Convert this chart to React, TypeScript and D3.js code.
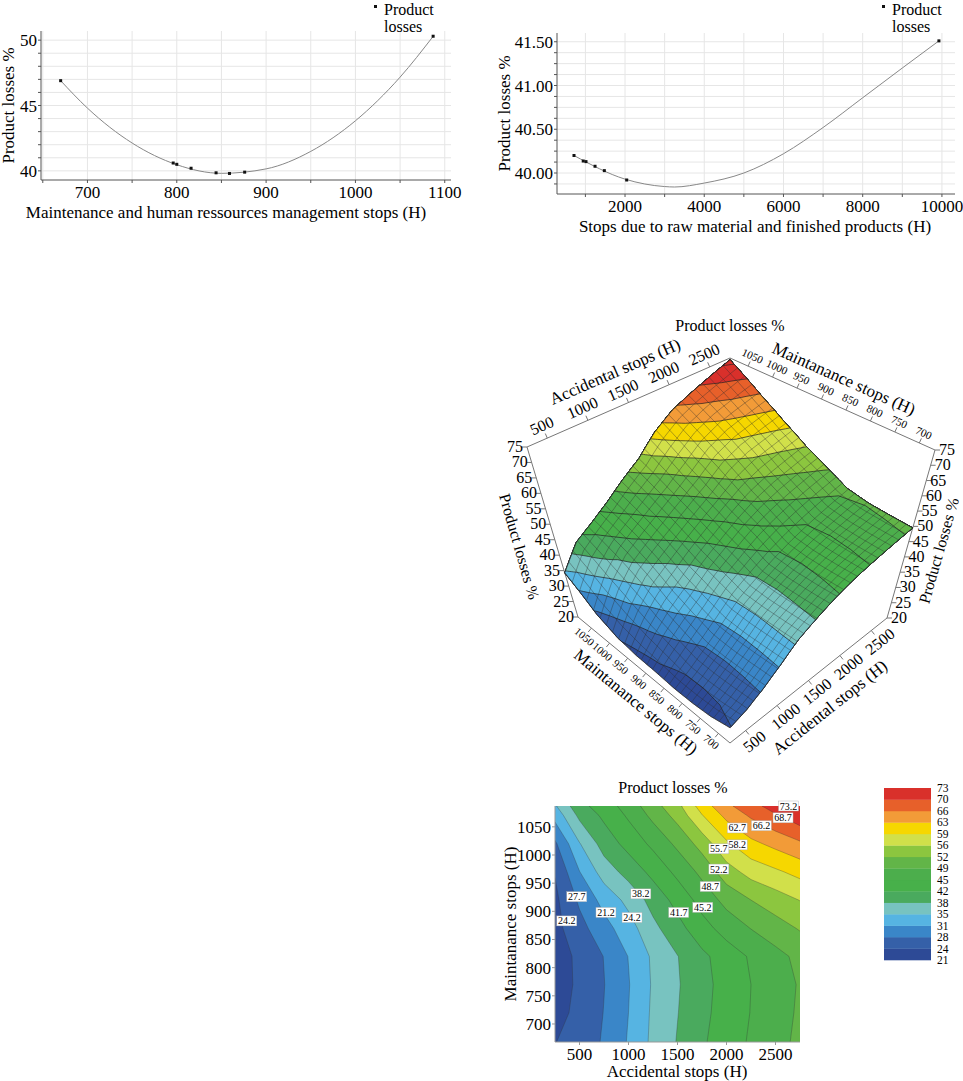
import * as d3 from 'd3';

// ---- top-left: maintenance & HR stops
const maintStops = [670, 796, 800, 816, 844, 859, 876, 1087];
const maintLoss = [46.9, 40.6, 40.5, 40.2, 39.85, 39.8, 39.9, 50.3];
const maintFitX = [670, 700, 750, 800, 850, 900, 950, 1000, 1050, 1087];
const maintFitY = [46.9, 44.8, 42.13, 40.47, 39.81, 40.15, 41.49, 43.83, 47.17, 50.29];

// ---- top-right: raw material stops
const rawStops = [712, 945, 1015, 1243, 1478, 2042, 9924];
const rawLoss = [40.2, 40.137, 40.13, 40.077, 40.027, 39.92, 41.51];
const rawFitX = [712, 2000, 3000, 3250, 4000, 5000, 6000, 7000, 8000, 9000, 9924];
const rawFitY = [40.2, 39.93, 39.845, 39.84, 39.885, 40.0, 40.22, 40.52, 40.86, 41.2, 41.51];

// ---- response surface grid (accidental stops x maintenance stops)
const accGrid = [250, 500, 750, 1000, 1250, 1500, 1750, 2000, 2250, 2500, 2750];
const maintGrid = [668, 720, 770, 820, 870, 920, 970, 1020, 1070, 1087];
const lossGrid = [
  [24.1, 25.6, 28.1, 31.5, 35.5, 38.4, 41.2, 43.6, 45.6, 47.5, 49.5],
  [23.0, 25.1, 27.8, 31.2, 35.3, 38.1, 40.8, 43.2, 45.3, 47.2, 49.2],
  [22.6, 24.8, 27.6, 31.0, 35.1, 37.9, 40.6, 43.0, 45.2, 47.1, 49.0],
  [22.6, 24.9, 27.8, 31.3, 35.3, 38.1, 40.9, 43.4, 45.6, 47.6, 49.6],
  [23.1, 26.5, 29.9, 33.2, 37.3, 40.5, 43.9, 46.6, 48.8, 50.7, 52.5],
  [23.4, 28.3, 32.4, 35.7, 39.5, 42.9, 46.5, 49.8, 52.2, 54.0, 55.8],
  [24.4, 31.1, 36.3, 39.5, 42.7, 46.1, 49.6, 54.1, 57.0, 58.6, 60.3],
  [27.1, 34.5, 39.7, 42.9, 46.0, 49.5, 53.6, 58.6, 61.8, 63.7, 65.6],
  [32.4, 39.0, 42.4, 45.7, 49.6, 53.4, 59.0, 63.6, 66.7, 69.3, 72.0],
  [34.3, 40.6, 43.4, 46.7, 50.8, 54.7, 60.8, 65.4, 68.4, 71.3, 74.3],
];
const levels = [20.7, 24.2, 27.7, 31.2, 34.7, 38.2, 41.7, 45.2, 48.7, 52.2, 55.7, 59.2, 62.7, 66.2, 69.7, 73.2];
const bandColors = ['#2d4a96', '#3560a8', '#3a86c8', '#56b4e2', '#78c3c0', '#4aaa5e', '#47b04a', '#4cae4c',
  '#62b548', '#8cc63f', '#d1e04a', '#f6d700', '#f29b38', '#e7602a', '#d9302b'];
const legendLabels = ['73', '70', '66', '63', '59', '56', '52', '49', '45', '42', '38', '35', '31', '28', '24', '21'];
const contourLabelText = ['73.2', '68.7', '66.2', '62.7', '58.2', '55.7', '52.2', '48.7', '45.2', '41.7', '38.2', '24.2', '21.2', '27.7', '24.2'];
const contourLabelAcc = [2633, 2577, 2356, 2110, 2110, 1922, 1922, 1833, 1758, 1512, 1126, 1036, 770, 472, 370];
const contourLabelMaint = [1087, 1066, 1052, 1048, 1018, 1011, 975, 944, 907, 898, 931, 889, 898, 926, 883];

const FONT = "'Liberation Serif', 'DejaVu Serif', serif";

function LineChart(props: {
  xs: number[]; ys: number[]; fx: number[]; fy: number[];
  xDom: number[]; xR: number[]; yDom: number[]; yR: number[];
  xTicks: number[]; xMinor: number[]; yTicks: number[]; yGrid: number[]; yFmt: (v: number) => string;
  xTitle: string; titleX: number; yTitleX: number; legX: number;
}) {
  const x = d3.scaleLinear().domain(props.xDom).range(props.xR);
  const y = d3.scaleLinear().domain(props.yDom).range(props.yR);
  const line = d3.line<number>().x((_, i) => x(props.fx[i])).y(d => y(d)).curve(d3.curveMonotoneX);
  const [x0, x1] = props.xR;
  const [y0, y1] = props.yR;
  return (
    <g>
      {props.xMinor.map(v => <line key={'gx' + v} x1={x(v)} x2={x(v)} y1={y0} y2={y1} stroke="#e6e6e6" />)}
      {props.yGrid.map(v => <line key={'gy' + v} x1={x0} x2={x1} y1={y(v)} y2={y(v)} stroke="#e6e6e6" />)}
      <line x1={x0} x2={x1} y1={y0} y2={y0} stroke="#555" />
      <line x1={x0} x2={x0} y1={y0} y2={y1} stroke="#555" />
      {props.xMinor.map(v => <line key={'tx' + v} x1={x(v)} x2={x(v)} y1={y0} y2={y0 + 3} stroke="#555" />)}
      {props.yGrid.map(v => <line key={'ty' + v} x1={x0} x2={x0 - 3} y1={y(v)} y2={y(v)} stroke="#555" />)}
      {props.xTicks.map(v => <text key={'lx' + v} x={x(v)} y={y0 + 18} fontSize={17} textAnchor="middle">{v}</text>)}
      {props.yTicks.map(v => <text key={'ly' + v} x={x0 - 4} y={y(v) + 6} fontSize={17} textAnchor="end">{props.yFmt(v)}</text>)}
      <text x={props.titleX} y={y0 + 38} fontSize={17} textAnchor="middle">{props.xTitle}</text>
      <text transform={`translate(${props.yTitleX},${(y0 + y1) / 2}) rotate(-90)`} fontSize={17} textAnchor="middle">Product losses %</text>
      <path d={line(props.fy) || ''} fill="none" stroke="#888" strokeWidth={1} />
      {props.xs.map((v, i) => <rect key={'p' + i} x={x(v) - 1.5} y={y(props.ys[i]) - 1.5} width={3} height={3} fill="#111" />)}
      <rect x={props.legX} y={5} width={3} height={3} fill="#111" />
      <text x={props.legX + 10} y={15} fontSize={16}>Product</text>
      <text x={props.legX + 10} y={32} fontSize={16}>losses</text>
    </g>
  );
}

// index-space <-> data-space for the contour grid
const accIdx = d3.scaleLinear().domain(accGrid.map((_, i) => i + 0.5)).range(accGrid);
const maintIdx = d3.scaleLinear().domain(maintGrid.map((_, i) => i + 0.5)).range(maintGrid);
const flat = lossGrid.flat();
const contours = d3.contours().size([accGrid.length, maintGrid.length]).thresholds(levels)(flat);

function zAt(fx: number, fy: number) {
  const nx = accGrid.length - 1, ny = maintGrid.length - 1;
  fx = Math.max(0, Math.min(nx, fx)); fy = Math.max(0, Math.min(ny, fy));
  const i = Math.min(Math.floor(fx), nx - 1), j = Math.min(Math.floor(fy), ny - 1);
  const tx = fx - i, ty = fy - j;
  const g = lossGrid;
  return (g[j][i] * (1 - tx) + g[j][i + 1] * tx) * (1 - ty) + (g[j + 1][i] * (1 - tx) + g[j + 1][i + 1] * tx) * ty;
}

// pseudo-perspective box for the 3D view: [front, right, left, back] for top (z=75) and bottom (z=20)
const boxTop = [[732, 539], [935, 450], [527, 447], [730, 358]];
const boxBot = [[730, 743], [887, 618], [578, 617], [735, 492]];
const ACC = [250, 2750], MNT = [668, 1087], ZR = [20, 75];
function bil(c: number[][], u: number, v: number) {
  const w = [(1 - u) * (1 - v), u * (1 - v), (1 - u) * v, u * v];
  return [0, 1].map(k => c.reduce((s, p, i) => s + p[k] * w[i], 0));
}
function proj(acc: number, mnt: number, z: number) {
  const u = (acc - ACC[0]) / (ACC[1] - ACC[0]);
  const v = (mnt - MNT[0]) / (MNT[1] - MNT[0]);
  const w = (z - ZR[0]) / (ZR[1] - ZR[0]);
  const a = bil(boxBot, u, v), b = bil(boxTop, u, v);
  return [a[0] + (b[0] - a[0]) * w, a[1] + (b[1] - a[1]) * w];
}
function projIdx(ix: number, iy: number) {
  const cx = Math.max(0.5, Math.min(accGrid.length - 0.5, ix));
  const cy = Math.max(0.5, Math.min(maintGrid.length - 0.5, iy));
  return proj(accIdx(cx), maintIdx(cy), zAt(cx - 0.5, cy - 0.5));
}
function ringPath3d(ring: number[][]) {
  const pts: number[][] = [];
  for (let k = 0; k < ring.length - 1; k++) {
    const [ax, ay] = ring[k], [bx, by] = ring[k + 1];
    const n = Math.max(1, Math.ceil(Math.hypot(bx - ax, by - ay) / 0.2));
    for (let s = 0; s < n; s++) pts.push(projIdx(ax + (bx - ax) * s / n, ay + (by - ay) * s / n));
  }
  return 'M' + pts.map(p => p[0].toFixed(1) + ',' + p[1].toFixed(1)).join('L') + 'Z';
}

function EdgeAxis(props: { from: number[]; to: number[]; d0: number; d1: number; ticks: number[]; side: number; title: string; fs: number; off: number }) {
  const { from, to, d0, d1, side } = props;
  const dx = to[0] - from[0], dy = to[1] - from[1];
  const L = Math.hypot(dx, dy);
  const ux = dx / L, uy = dy / L;
  const nx = side * uy, ny = -side * ux;
  const ang = (Math.atan2(uy, ux) * 180) / Math.PI;
  const t = d3.scaleLinear().domain([d0, d1]).range([0, 1]);
  const pt = (v: number) => [from[0] + dx * t(v), from[1] + dy * t(v)];
  const mid = pt((d0 + d1) / 2);
  return (
    <g>
      <line x1={from[0]} y1={from[1]} x2={to[0]} y2={to[1]} stroke="#777" />
      {props.ticks.map(v => {
        const p = pt(v);
        return (
          <g key={v}>
            <line x1={p[0]} y1={p[1]} x2={p[0] + nx * 5} y2={p[1] + ny * 5} stroke="#777" />
            <text transform={`translate(${p[0] + nx * (props.fs * 0.55 + 5)},${p[1] + ny * (props.fs * 0.55 + 5)}) rotate(${ang})`}
              fontSize={props.fs} textAnchor="middle" dy="0.35em">{v}</text>
          </g>
        );
      })}
      <text transform={`translate(${mid[0] + nx * props.off},${mid[1] + ny * props.off}) rotate(${ang})`}
        fontSize={17} textAnchor="middle" dy="0.35em">{props.title}</text>
    </g>
  );
}

function Surface3D() {
  const zTicks = d3.range(20, 76, 5);
  const accT = [500, 1000, 1500, 2000, 2500];
  const mntT = [700, 750, 800, 850, 900, 950, 1000, 1050];
  const N = 28;
  const meshA = d3.range(N + 1).map(k => ACC[0] + (ACC[1] - ACC[0]) * k / N);
  const meshM = d3.range(N + 1).map(k => MNT[0] + (MNT[1] - MNT[0]) * k / N);
  const samp = d3.range(41).map(k => k / 40);
  const ptAt = (a: number, m: number) => proj(a, m, zAt(accIdx.invert(a) - 0.5, maintIdx.invert(m) - 0.5));
  const pl = (pts: number[][]) => 'M' + pts.map(p => p[0].toFixed(1) + ',' + p[1].toFixed(1)).join('L');
  const lt = proj(250, 1087, 75), lb = proj(250, 1087, 20);
  const rt = proj(2750, 668, 75), rb = proj(2750, 668, 20);
  return (
    <g>
      <text x={730} y={331} fontSize={16} textAnchor="middle">Product losses %</text>
      <EdgeAxis from={proj(250, 1087, 75)} to={proj(2750, 1087, 75)} d0={250} d1={2750} ticks={accT} side={1} title="Accidental stops (H)" fs={16} off={34} />
      <EdgeAxis from={proj(2750, 1087, 75)} to={proj(2750, 668, 75)} d0={1087} d1={668} ticks={mntT} side={1} title="Maintanance stops (H)" fs={11} off={28} />
      <EdgeAxis from={proj(250, 1087, 20)} to={proj(250, 668, 20)} d0={1087} d1={668} ticks={mntT} side={-1} title="Maintanance stops (H)" fs={11} off={28} />
      <EdgeAxis from={proj(250, 668, 20)} to={proj(2750, 668, 20)} d0={250} d1={2750} ticks={accT} side={-1} title="Accidental stops (H)" fs={16} off={34} />
      <line x1={lt[0]} y1={lt[1]} x2={lb[0]} y2={lb[1]} stroke="#777" />
      <line x1={rt[0]} y1={rt[1]} x2={rb[0]} y2={rb[1]} stroke="#777" />
      {zTicks.map(v => {
        const p = proj(250, 1087, v), q = proj(2750, 668, v);
        return (
          <g key={v}>
            <line x1={p[0]} y1={p[1]} x2={p[0] - 5} y2={p[1]} stroke="#777" />
            <text x={p[0] - 4} y={p[1] + 5} fontSize={16} textAnchor="end">{v}</text>
            <line x1={q[0]} y1={q[1]} x2={q[0] + 5} y2={q[1]} stroke="#777" />
            <text x={q[0] + 4} y={q[1] + 5} fontSize={16}>{v}</text>
          </g>
        );
      })}
      <text transform="translate(514,548) rotate(74)" fontSize={16} textAnchor="middle">Product losses %</text>
      <text transform="translate(944,552) rotate(-74)" fontSize={16} textAnchor="middle">Product losses %</text>
      {contours.map((c, k) => (
        <path key={k} d={c.coordinates.map(poly => poly.map(r => ringPath3d(r as number[][])).join('')).join('')}
          fill={bandColors[Math.min(k, bandColors.length - 1)]} stroke="#222" strokeWidth={0.7} />
      ))}
      {meshA.map((a, k) => <path key={'ma' + k} d={pl(samp.map(s => ptAt(a, MNT[0] + (MNT[1] - MNT[0]) * s)))} fill="none" stroke="#2a2a2a" strokeWidth={0.5} opacity={0.75} />)}
      {meshM.map((m, k) => <path key={'mm' + k} d={pl(samp.map(s => ptAt(ACC[0] + (ACC[1] - ACC[0]) * s, m)))} fill="none" stroke="#2a2a2a" strokeWidth={0.5} opacity={0.75} />)}
    </g>
  );
}

function ContourPlot() {
  const x = d3.scaleLinear().domain(ACC).range([555, 800]);
  const y = d3.scaleLinear().domain(MNT).range([1042, 806]);
  const path = d3.geoPath(d3.geoTransform({
    point(px: number, py: number) { this.stream.point(x(accIdx(px)), y(maintIdx(py))); },
  }));
  const lg = d3.scaleBand<number>().domain(d3.range(15)).range([960, 788]);
  return (
    <g>
      <defs>
        <clipPath id="cclip"><rect x={555} y={806} width={245} height={236} /></clipPath>
      </defs>
      <text x={673} y={793} fontSize={16} textAnchor="middle">Product losses %</text>
      <g clipPath="url(#cclip)">
        {contours.map((c, k) => (
          <path key={k} d={path(c as any) || ''} fill={bandColors[Math.min(k, bandColors.length - 1)]} stroke="#333" strokeWidth={0.5} strokeOpacity={0.6} />
        ))}
      </g>
      <line x1={555} x2={800} y1={1042} y2={1042} stroke="#999" />
      <line x1={555} x2={555} y1={806} y2={1042} stroke="#999" />
      {[500, 1000, 1500, 2000, 2500].map(v => (
        <g key={v}><line x1={x(v)} x2={x(v)} y1={1042} y2={1045} stroke="#999" />
          <text x={x(v)} y={1060} fontSize={17} textAnchor="middle">{v}</text></g>
      ))}
      {[700, 750, 800, 850, 900, 950, 1000, 1050].map(v => (
        <g key={v}><line x1={552} x2={555} y1={y(v)} y2={y(v)} stroke="#999" />
          <text x={551} y={y(v) + 6} fontSize={17} textAnchor="end">{v}</text></g>
      ))}
      <text x={677} y={1077} fontSize={17} textAnchor="middle">Accidental stops (H)</text>
      <text transform="translate(516,924) rotate(-90)" fontSize={17} textAnchor="middle">Maintanance stops (H)</text>
      {contourLabelText.map((t, i) => {
        const cx = x(contourLabelAcc[i]), cy = y(contourLabelMaint[i]);
        return (
          <g key={i}>
            <rect x={cx - 10} y={cy - 5} width={20} height={10} fill="#fff" stroke="#aaa" strokeWidth={0.4} />
            <text x={cx} y={cy + 3.5} fontSize={10} textAnchor="middle">{t}</text>
          </g>
        );
      })}
      {bandColors.map((c, k) => <rect key={k} x={884} y={lg(k)} width={47} height={lg.bandwidth() + 0.3} fill={c} />)}
      {legendLabels.map((t, i) => (
        <text key={i} x={937} y={788 + (i * 172) / 15 + 4} fontSize={11.5}>{t}</text>
      ))}
    </g>
  );
}

export default function App() {
  return (
    <svg width={963} height={1081} fontFamily={FONT} style={{ position: 'absolute', left: 0, top: 0, background: '#fff' }}>
      <LineChart xs={maintStops} ys={maintLoss} fx={maintFitX} fy={maintFitY}
        xDom={[648, 1107]} xR={[41, 451]} yDom={[39.3, 50.7]} yR={[180, 31]}
        xTicks={[700, 800, 900, 1000, 1100]} xMinor={d3.range(650, 1101, 50)}
        yTicks={[40, 45, 50]} yGrid={d3.range(40, 51, 1)} yFmt={v => String(v)}
        xTitle="Maintenance and human ressources management stops (H)" titleX={226} yTitleX={14} legX={374} />
      <LineChart xs={rawStops} ys={rawLoss} fx={rawFitX} fy={rawFitY}
        xDom={[283, 10330]} xR={[557, 955]} yDom={[39.76, 41.6]} yR={[194, 33]}
        xTicks={[2000, 4000, 6000, 8000, 10000]} xMinor={d3.range(1000, 10001, 1000)}
        yTicks={[40, 40.5, 41, 41.5]} yGrid={d3.range(39.875, 41.6, 0.125)} yFmt={d3.format('.2f')}
        xTitle="Stops due to raw material and finished products (H)" titleX={755} yTitleX={510} legX={882} />
      <Surface3D />
      <ContourPlot />
    </svg>
  );
}
